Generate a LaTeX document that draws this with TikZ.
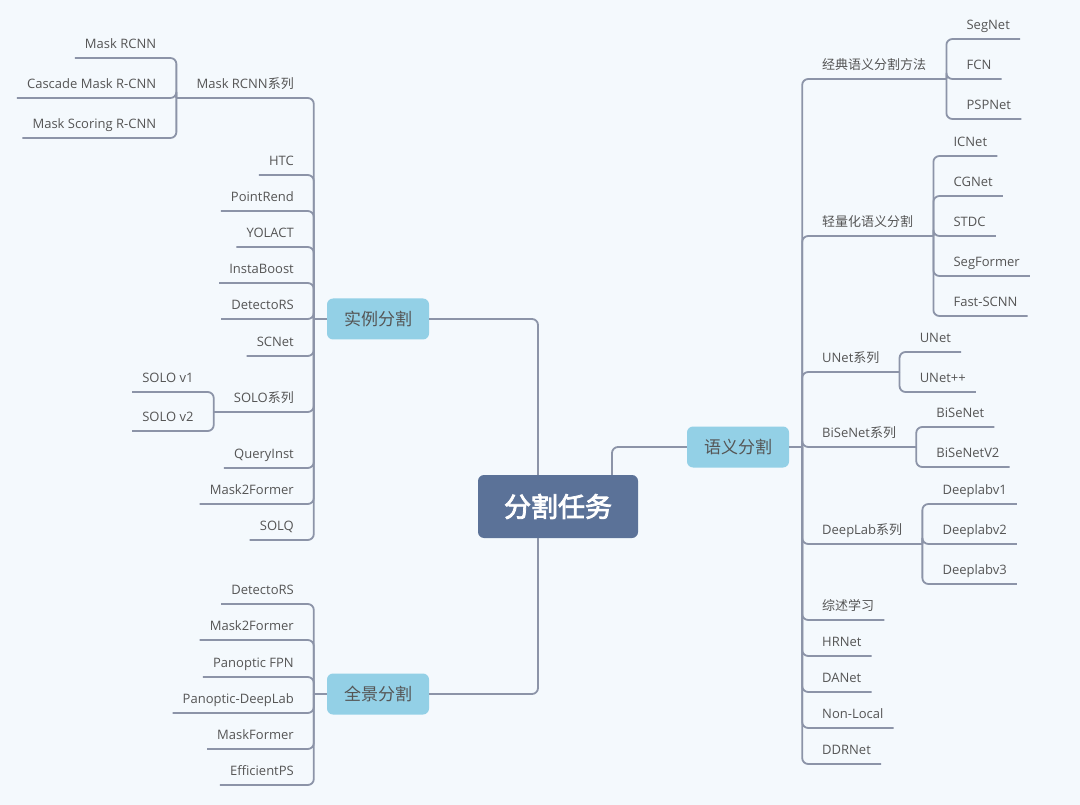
\documentclass[tikz,border=0pt]{standalone}
\usepackage{fontspec}
\setmainfont{Open Sans}
\newfontfamily\cjk{Noto Sans CJK SC}[AutoFakeBold=3]
\definecolor{bgcol}{HTML}{F4F9FD}
\definecolor{linecol}{HTML}{8C94A8}
\definecolor{txtcol}{HTML}{555555}
\definecolor{rootcol}{HTML}{5B7298}
\definecolor{topiccol}{HTML}{93D0E6}

\begin{document}
\begin{tikzpicture}[x=1pt, y=-1pt,
  link/.style={draw=linecol, line width=1.8pt, rounded corners=6pt},
  leaf/.style={text=txtcol, font=\fontsize{13}{15}\selectfont, inner xsep=10pt, inner ysep=0pt, text height=10pt, text depth=9.5pt},
  lleaf/.style={leaf, anchor=south east},
  rleaf/.style={leaf, anchor=south west},
  topic/.style={fill=topiccol, rounded corners=6pt, text=txtcol, font=\cjk\fontsize{17}{20}\selectfont, minimum width=102pt, minimum height=41pt, inner sep=0pt},
  root/.style={fill=rootcol, rounded corners=6pt, text=white, font=\cjk\bfseries\fontsize{27}{30}\selectfont, minimum width=160pt, minimum height=63pt, inner sep=0pt}]

  % --- 0. 背景 ---
  \fill[bgcol] (0,0) rectangle (1080,805);
  \useasboundingbox (0,0) rectangle (1080,805);

  % --- 1. 中心主题と3つの分岐 ---
  \node[root] (root) at (558,506.5) {分割任务};
  \node[topic] (ins) at (378,319) {实例分割};
  \node[topic] (pan) at (378,694) {全景分割};
  \node[topic] (sem) at (738,447) {语义分割};

  \draw[link] ([xshift=-20pt]root.north) |- (ins.east);
  \draw[link] ([xshift=-20pt]root.south) |- (pan.east);
  \draw[link] ([xshift=54pt]root.north) |- (sem.west);

  \coordinate (ins-j) at ([xshift=-13pt]ins.west);
  \coordinate (pan-j) at ([xshift=-13pt]pan.west);
  \coordinate (sem-j) at ([xshift=13pt]sem.east);
  \draw[link] (ins.west) -- (ins-j);
  \draw[link] (pan.west) -- (pan-j);
  \draw[link] (sem.east) -- (sem-j);

  % --- 2. 实例分割 ---
  \node[lleaf] (mrcnn) at (304,98) {Mask RCNN{\cjk 系列}};
  \node[lleaf] (htc) at (304,175) {HTC};
  \node[lleaf] (pointrend) at (304,211) {PointRend};
  \node[lleaf] (yolact) at (304,247) {YOLACT};
  \node[lleaf] (instaboost) at (304,283) {InstaBoost};
  \node[lleaf] (detectors) at (304,319) {DetectoRS};
  \node[lleaf] (scnet) at (304,356) {SCNet};
  \node[lleaf] (solo) at (304,412) {SOLO{\cjk 系列}};
  \node[lleaf] (queryinst) at (304,468) {QueryInst};
  \node[lleaf] (m2f) at (304,504) {Mask2Former};
  \node[lleaf] (solq) at (304,540) {SOLQ};

  \coordinate (mrcnn-j) at ([xshift=-10pt]mrcnn.south west);
  \node[lleaf] (mrcnn-a) at ([shift={(-10,-40)}]mrcnn-j) {Mask RCNN};
  \node[lleaf] (mrcnn-b) at ([shift={(-10,0)}]mrcnn-j) {Cascade Mask R-CNN};
  \node[lleaf] (mrcnn-c) at ([shift={(-10,40)}]mrcnn-j) {Mask Scoring R-CNN};

  \coordinate (solo-j) at ([xshift=-10pt]solo.south west);
  \node[lleaf] (solo-a) at ([shift={(-10,-20)}]solo-j) {SOLO v1};
  \node[lleaf] (solo-b) at ([shift={(-10,19)}]solo-j) {SOLO v2};

  \draw[link] (ins-j) |- (mrcnn-j);
  \draw[link] (ins-j) |- (solo-j);
  \foreach \n in {htc,pointrend,yolact,instaboost,detectors,scnet,queryinst,m2f,solq}
    \draw[link] (ins-j) |- (\n.south west);
  \foreach \n in {mrcnn-a,mrcnn-b,mrcnn-c}
    \draw[link] (mrcnn-j) |- (\n.south west);
  \foreach \n in {solo-a,solo-b}
    \draw[link] (solo-j) |- (\n.south west);

  % --- 3. 全景分割 ---
  \node[lleaf] (p-detectors) at (304,604) {DetectoRS};
  \node[lleaf] (p-m2f) at (304,640) {Mask2Former};
  \node[lleaf] (p-fpn) at (304,677) {Panoptic FPN};
  \node[lleaf] (p-deeplab) at (304,713) {Panoptic-DeepLab};
  \node[lleaf] (p-maskformer) at (304,749) {MaskFormer};
  \node[lleaf] (p-effps) at (304,785) {EfficientPS};

  \foreach \n in {p-detectors,p-m2f,p-fpn,p-deeplab,p-maskformer,p-effps}
    \draw[link] (pan-j) |- (\n.south west);

  % --- 4. 语义分割 ---
  \node[rleaf] (cls) at (812,79) {\cjk 经典语义分割方法};
  \node[rleaf] (lite) at (812,236) {\cjk 轻量化语义分割};
  \node[rleaf] (unet) at (812,372) {UNet{\cjk 系列}};
  \node[rleaf] (bise) at (812,447) {BiSeNet{\cjk 系列}};
  \node[rleaf] (dl) at (812,544) {DeepLab{\cjk 系列}};
  \node[rleaf] (survey) at (812,620) {\cjk 综述学习};
  \node[rleaf] (hrnet) at (812,656) {HRNet};
  \node[rleaf] (danet) at (812,692) {DANet};
  \node[rleaf] (nonlocal) at (812,728) {Non-Local};
  \node[rleaf] (ddrnet) at (812,764) {DDRNet};

  \coordinate (cls-j) at ([xshift=10pt]cls.south east);
  \node[rleaf] (cls-a) at ([shift={(10,-40)}]cls-j) {SegNet};
  \node[rleaf] (cls-b) at ([shift={(10,0)}]cls-j) {FCN};
  \node[rleaf] (cls-c) at ([shift={(10,40)}]cls-j) {PSPNet};

  \coordinate (lite-j) at ([xshift=10pt]lite.south east);
  \node[rleaf] (lite-a) at ([shift={(10,-80)}]lite-j) {ICNet};
  \node[rleaf] (lite-b) at ([shift={(10,-40)}]lite-j) {CGNet};
  \node[rleaf] (lite-c) at ([shift={(10,0)}]lite-j) {STDC};
  \node[rleaf] (lite-d) at ([shift={(10,40)}]lite-j) {SegFormer};
  \node[rleaf] (lite-e) at ([shift={(10,80)}]lite-j) {Fast-SCNN};

  \coordinate (unet-j) at ([xshift=10pt]unet.south east);
  \node[rleaf] (unet-a) at ([shift={(10,-20)}]unet-j) {UNet};
  \node[rleaf] (unet-b) at ([shift={(10,20)}]unet-j) {UNet++};

  \coordinate (bise-j) at ([xshift=10pt]bise.south east);
  \node[rleaf] (bise-a) at ([shift={(10,-20)}]bise-j) {BiSeNet};
  \node[rleaf] (bise-b) at ([shift={(10,20)}]bise-j) {BiSeNetV2};

  \coordinate (dl-j) at ([xshift=10pt]dl.south east);
  \node[rleaf] (dl-a) at ([shift={(10,-40)}]dl-j) {Deeplabv1};
  \node[rleaf] (dl-b) at ([shift={(10,0)}]dl-j) {Deeplabv2};
  \node[rleaf] (dl-c) at ([shift={(10,40)}]dl-j) {Deeplabv3};

  \foreach \n in {cls,lite,unet,bise,dl}
    \draw[link] (sem-j) |- (\n-j);
  \foreach \n in {survey,hrnet,danet,nonlocal,ddrnet}
    \draw[link] (sem-j) |- (\n.south east);
  \foreach \n in {cls-a,cls-b,cls-c}
    \draw[link] (cls-j) |- (\n.south east);
  \foreach \n in {lite-a,lite-b,lite-c,lite-d,lite-e}
    \draw[link] (lite-j) |- (\n.south east);
  \foreach \n in {unet-a,unet-b}
    \draw[link] (unet-j) |- (\n.south east);
  \foreach \n in {bise-a,bise-b}
    \draw[link] (bise-j) |- (\n.south east);
  \foreach \n in {dl-a,dl-b,dl-c}
    \draw[link] (dl-j) |- (\n.south east);

\end{tikzpicture}
\end{document}
